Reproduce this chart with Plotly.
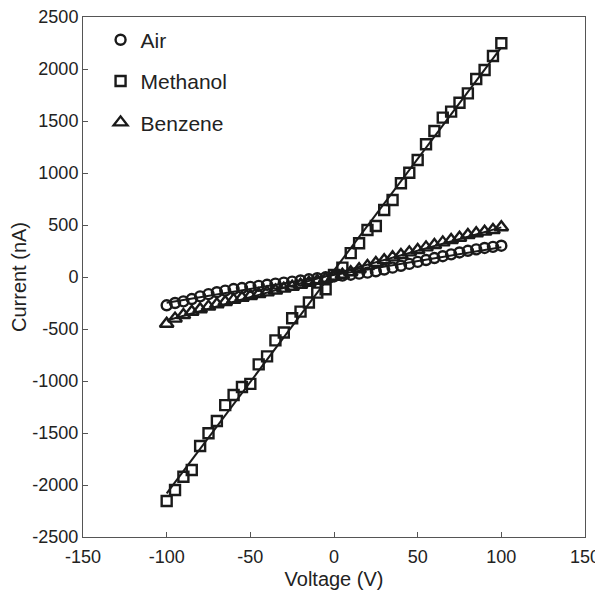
import numpy as np
import plotly.graph_objects as go

voltage = list(range(-100, 105, 5))

air = [-272, -250, -234, -212, -186, -165, -146, -131, -116, -106,
       -95, -85, -75, -64, -54, -44, -33, -22, -12, -3,
       5, 14, 22, 32, 42, 55, 72, 90, 108, 126,
       145, 163, 182, 200, 218, 236, 252, 266, 279, 290, 301]

methanol = [-2154, -2048, -1920, -1856, -1625, -1503, -1385, -1232, -1135, -1058,
            -1028, -840, -763, -609, -533, -397, -333, -245, -150, -118,
            20, 90, 230, 324, 452, 490, 644, 740, 901, 1003,
            1125, 1276, 1404, 1532, 1590, 1676, 1766, 1904, 1990, 2125, 2247]

benzene = [-450, -400, -365, -335, -310, -285, -262, -240, -220, -200,
           -182, -165, -148, -130, -112, -94, -75, -56, -37, -18,
           2, 22, 45, 75, 105, 135, 162, 189, 212, 237,
           260, 285, 308, 333, 356, 378, 404, 420, 436, 452, 478]

x_ticks = [-150, -100, -50, 0, 50, 100, 150]
x_labels = ['-150', '-100', '-50', '0', '50', '100', '150']
y_ticks = [-2500, -2000, -1500, -1000, -500, 0, 500, 1000, 1500, 2000, 2500]
y_labels = ['-2500', '-2000', '-1500', '-1000', '-500', '0', '500', '1000', '1500', '2000', '2500']

series = [
    ('Air', air, 'circle-open', 10),
    ('Methanol', methanol, 'square-open', 10),
    ('Benzene', benzene, 'triangle-up-open', 12),
]

fig = go.Figure()
x = np.array(voltage)
for name, vals, symbol, size in series:
    # linear fit through each data set
    slope, icpt = np.polyfit(x, np.array(vals), 1)
    xf = np.array([x.min(), x.max()])
    fig.add_trace(go.Scatter(x=xf, y=slope * xf + icpt, mode='lines',
                             line=dict(color='#1a1a1a', width=2),
                             showlegend=False, hoverinfo='skip'))
for name, vals, symbol, size in series:
    fig.add_trace(go.Scatter(x=voltage, y=vals, mode='markers', name=name,
                             legendgroup=name,
                             marker=dict(symbol=symbol, size=size, color='#1a1a1a',
                                         line=dict(color='#1a1a1a', width=2.4))))

axis_common = dict(showgrid=False, zeroline=False, showline=True, linecolor='#555',
                   linewidth=1, mirror=True, ticks='inside', ticklen=5,
                   tickcolor='#555', tickfont=dict(size=18, color='#222'),
                   automargin=False, ticklabeloverflow='allow')

# page body adds an 8px offset, so the figure is shrunk by that much
fig.update_layout(
    width=595, height=583,
    margin=dict(l=75, r=18, t=9, b=54),
    paper_bgcolor='white', plot_bgcolor='white',
    font=dict(family='Liberation Sans, Arial, sans-serif', color='#222'),
    xaxis=dict(range=[-150, 150], tickvals=x_ticks, ticktext=x_labels,
               ticklabelstandoff=3,
               title=dict(text='Voltage (V)', font=dict(size=20), standoff=6),
               **axis_common),
    yaxis=dict(range=[-2500, 2500], tickvals=y_ticks, ticktext=y_labels,
               title=dict(text='Current (nA)', font=dict(size=20), standoff=6),
               **axis_common),
    legend=dict(x=0.035, y=0.995, xanchor='left', yanchor='top',
                bgcolor='rgba(0,0,0,0)', font=dict(size=21, color='#222'),
                tracegroupgap=11, itemwidth=30),
)

fig.write_html("out.html")
